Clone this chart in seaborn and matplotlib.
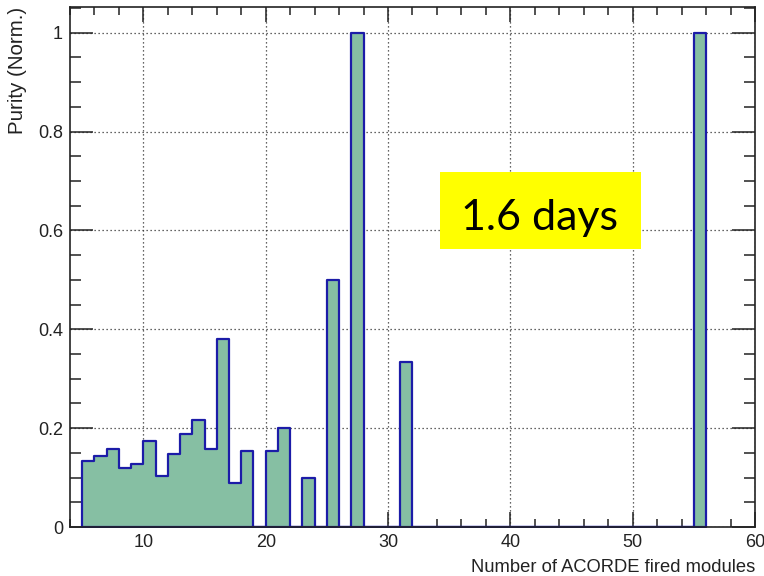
import pandas as pd
import seaborn as sns
import matplotlib.pyplot as plt
from matplotlib import ticker
from matplotlib.patches import Rectangle

# histogram contents (lower bin edge -> purity), bins of width 1
modules = [5, 6, 7, 8, 9, 10, 11, 12, 13, 14, 15, 16, 17, 18, 20, 21, 23, 25, 27, 31, 55]
purity = [0.134, 0.144, 0.157, 0.120, 0.127, 0.174, 0.103, 0.147, 0.188, 0.217,
          0.157, 0.380, 0.090, 0.154, 0.154, 0.200, 0.100, 0.500, 1.000, 0.333, 1.000]
x_ticks = [10, 20, 30, 40, 50, 60]
y_ticks = [0, 0.2, 0.4, 0.6, 0.8, 1]
label_text = "1.6 days"

sns.set_style("white")
plt.rcParams['font.family'] = ['Liberation Sans', 'DejaVu Sans']

fig = plt.figure(figsize=(7.64, 5.76), dpi=100)
ax = fig.add_axes([70 / 764, 1 - 527 / 576, 685 / 764, 520 / 576])

df = pd.DataFrame({"module": [m + 0.5 for m in modules], "purity": purity})
sns.histplot(data=df, x="module", weights="purity", binwidth=1, binrange=(5, 56),
             element="step", fill=True, facecolor="#86bfa3", edgecolor="#1c1ca8",
             linewidth=1.6, alpha=1, ax=ax)

ax.set_xlim(4, 60)
ax.set_ylim(0, 1.052)
ax.xaxis.set_major_locator(ticker.FixedLocator(x_ticks))
ax.xaxis.set_minor_locator(ticker.MultipleLocator(2))
ax.yaxis.set_major_locator(ticker.FixedLocator(y_ticks))
ax.yaxis.set_minor_locator(ticker.MultipleLocator(0.05))
ax.yaxis.set_major_formatter(ticker.FuncFormatter(lambda v, p: '%g' % v))

ax.set_axisbelow(True)
ax.grid(True, which='major', color='#333333', linestyle=(0, (1, 2.2)), linewidth=0.9)

ax.tick_params(which='both', direction='in', top=True, right=True,
               bottom=True, left=True, width=1.1, colors='#222222',
               labelsize=13, pad=5)
ax.tick_params(axis='x', which='major', length=11)
ax.tick_params(axis='x', which='minor', length=6)
ax.tick_params(axis='y', which='major', length=16.5)
ax.tick_params(axis='y', which='minor', length=8)
for s in ax.spines.values():
    s.set_visible(True)
    s.set_color('#222222')
    s.set_linewidth(1.2)
    s.set_zorder(4)

ax.set_xlabel('Number of ACORDE fired modules', loc='right', fontsize=13.2,
              color='#222222', labelpad=6)
ax.set_ylabel('Purity (Norm.)', loc='top', fontsize=14.8, color='#222222', labelpad=8)

# yellow label box
ax.add_patch(Rectangle((0.540, 0.5346), 0.2934, 0.148, transform=ax.transAxes,
                       facecolor='#ffff00', edgecolor='none', zorder=5))
ax.text(0.685, 0.571, label_text, transform=ax.transAxes, ha='center', va='baseline',
        fontsize=31, family=['Lato', 'DejaVu Sans'], color='black', zorder=6)

plt.savefig('out.png', dpi=100)
